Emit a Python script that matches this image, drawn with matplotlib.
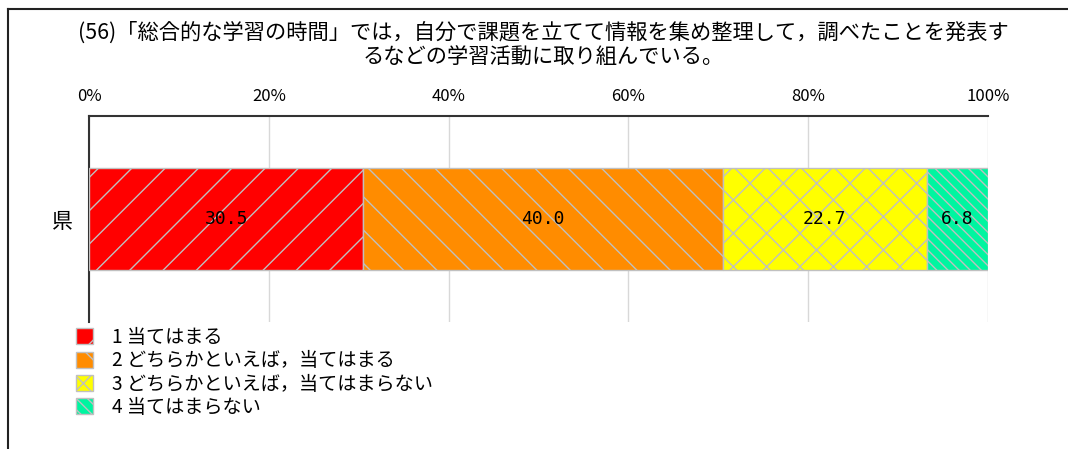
import matplotlib
matplotlib.use("Agg")
import matplotlib.pyplot as plt
from matplotlib.patches import Patch
from matplotlib.lines import Line2D

plt.rcParams['font.family'] = ['Noto Sans CJK JP', 'DejaVu Sans']
plt.rcParams['hatch.linewidth'] = 1.0

title = "(56)「総合的な学習の時間」では，自分で課題を立てて情報を集め整理して，調べたことを発表す\nるなどの学習活動に取り組んでいる。"
categories = ["県"]
series_labels = ["1 当てはまる", "2 どちらかといえば，当てはまる",
                 "3 どちらかといえば，当てはまらない", "4 当てはまらない"]
values = [30.5, 40.0, 22.7, 6.8]
colors = ["#ff0000", "#ff8c00", "#ffff00", "#00f5a0"]
hatches = ["/", "\\", "x", "\\\\\\"]
xticks = [0, 20, 40, 60, 80, 100]
xticklabels = ["0%", "20%", "40%", "60%", "80%", "100%"]

W, H = 1068, 449
fig = plt.figure(figsize=(W / 100, H / 100), dpi=100)
ax = fig.add_axes([89 / W, 1 - 322 / H, (988 - 89) / W, (322 - 116) / H])

left = 0
for v, c, h in zip(values, colors, hatches):
    ax.barh(0, v, left=left, height=0.495, color=c, edgecolor="#c0c0c0",
            hatch=h, linewidth=1.0, zorder=3)
    ax.text(left + v / 2, 0, f"{v:.1f}", ha="center", va="center",
            fontsize=13, family="DejaVu Sans Mono", zorder=4)
    left += v

ax.set_xlim(0, 100)
ax.set_ylim(-0.5, 0.5)
ax.set_yticks([0])
ax.set_yticklabels(categories, fontsize=15)
ax.xaxis.tick_top()
ax.set_xticks(xticks)
ax.set_xticklabels(xticklabels, fontsize=12)
ax.tick_params(axis="y", length=0, pad=12)
ax.tick_params(axis="x", length=0, pad=8)
ax.grid(axis="x", color="#d8d8d8", linewidth=1.0, zorder=0)
for s in ["right", "bottom"]:
    ax.spines[s].set_visible(False)
for s in ["left", "top"]:
    ax.spines[s].set_color("#333333")
    ax.spines[s].set_linewidth(1.5)

fig.text(543 / W, 1 - 45 / H, title, ha="center", va="center",
         fontsize=15.3, linespacing=1.15)

handles = [Patch(facecolor=c, edgecolor="#c0c0c0", hatch=h, linewidth=1.0)
           for c, h in zip(colors, hatches)]
fig.legend(handles, series_labels, loc="upper left",
           bbox_to_anchor=(76 / W, 1 - 327 / H), frameon=False,
           fontsize=13.8, handlelength=0.9, handleheight=0.9,
           handletextpad=1.0, labelspacing=0.12, borderaxespad=0,
           borderpad=0)

fig.add_artist(Line2D([8 / W, 8 / W], [0, 1 - 9 / H], color="#222222",
                      linewidth=1.5, transform=fig.transFigure))
fig.add_artist(Line2D([8 / W, 1], [1 - 9 / H, 1 - 9 / H], color="#222222",
                      linewidth=1.5, transform=fig.transFigure))

fig.savefig("out.png", dpi=100)
